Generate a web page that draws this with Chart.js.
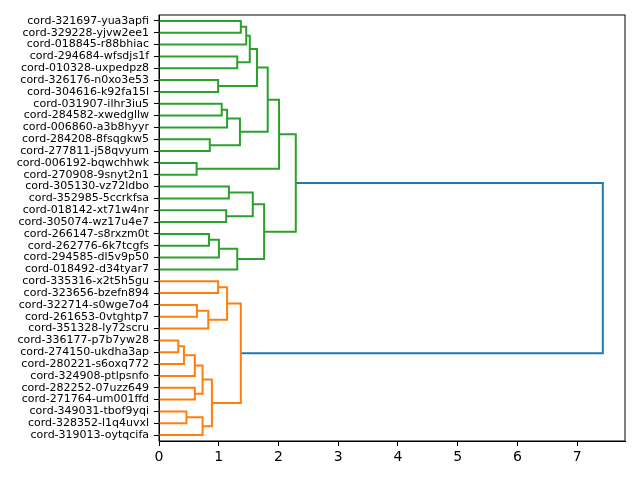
<!DOCTYPE html>
<html>
<head>
<meta charset="utf-8">
<script src="https://cdn.jsdelivr.net/npm/chart.js@4.4.1/dist/chart.umd.min.js"></script>
<style>
  html, body { margin: 0; padding: 0; background: #fff; }
  #wrap { width: 640px; height: 480px; }
</style>
</head>
<body>
<div id="wrap"><canvas id="dendro" width="640" height="480"></canvas></div>
<script>
// leaves, top to bottom as they appear on the y axis
const leafLabels = [
  "cord-321697-yua3apfi", "cord-329228-yjvw2ee1", "cord-018845-r88bhiac", "cord-294684-wfsdjs1f",
  "cord-010328-uxpedpz8", "cord-326176-n0xo3e53", "cord-304616-k92fa15l", "cord-031907-ilhr3iu5",
  "cord-284582-xwedgllw", "cord-006860-a3b8hyyr", "cord-284208-8fsqgkw5", "cord-277811-j58qvyum",
  "cord-006192-bqwchhwk", "cord-270908-9snyt2n1", "cord-305130-vz72ldbo", "cord-352985-5ccrkfsa",
  "cord-018142-xt71w4nr", "cord-305074-wz17u4e7", "cord-266147-s8rxzm0t", "cord-262776-6k7tcgfs",
  "cord-294585-dl5v9p50", "cord-018492-d34tyar7", "cord-335316-x2t5h5gu", "cord-323656-bzefn894",
  "cord-322714-s0wge7o4", "cord-261653-0vtghtp7", "cord-351328-ly72scru", "cord-336177-p7b7yw28",
  "cord-274150-ukdha3ap", "cord-280221-s6oxq772", "cord-324908-ptlpsnfo", "cord-282252-07uzz649",
  "cord-271764-um001ffd", "cord-349031-tbof9yqi", "cord-328352-l1q4uvxl", "cord-319013-oytqcifa"
];

// linkage: merge k joins mergeLeft[k] and mergeRight[k] (ids >= 36 are earlier merges)
const mergeLeft  = [0, 36, 3, 37, 5, 39, 7, 42, 10, 43, 41, 12, 46, 14, 16, 49, 18, 52, 53, 51,
                    48, 22, 24, 58, 57, 27, 61, 62, 31, 63, 33, 66, 65, 60, 56];
const mergeRight = [1, 2, 4, 38, 6, 40, 8, 9, 11, 44, 45, 13, 47, 15, 17, 50, 19, 20, 21, 54,
                    55, 23, 25, 26, 59, 28, 29, 30, 32, 64, 34, 35, 67, 68, 69];
const mergeHeight = [1.37, 1.46, 1.31, 1.52, 0.99, 1.64, 1.05, 1.14, 0.85, 1.355, 1.82, 0.63, 2.01,
                     1.17, 1.125, 1.57, 0.836, 1.003, 1.31, 1.76, 2.29, 0.99, 0.635, 0.825, 1.14,
                     0.323, 0.418, 0.60, 0.60, 0.73, 0.46, 0.73, 0.886, 1.37, 7.43];

const xTicks = [0, 1, 2, 3, 4, 5, 6, 7];

const clusterPalette = ["#2ca02c", "#ff7f0e"];
const aboveColor = "#1f77b4";

const n = leafLabels.length;
const pos = [], hgt = [];
leafLabels.forEach((_, i) => { pos[i] = 5 + 10 * i; hgt[i] = 0; });
mergeLeft.forEach((l, k) => {
  const r = mergeRight[k];
  pos[n + k] = (pos[l] + pos[r]) / 2;
  hgt[n + k] = mergeHeight[k];
});

// colour clusters like scipy does (threshold = 0.7 * max)
const threshold = 0.7 * Math.max(...mergeHeight);
const linkColor = [];
let nextColor = 0;
function paint(node, color) {
  if (node < n) return;
  const k = node - n;
  let c = color;
  if (mergeHeight[k] > threshold) c = null;
  else if (!c) c = clusterPalette[nextColor++ % clusterPalette.length];
  linkColor[k] = c || aboveColor;
  paint(mergeLeft[k], c);
  paint(mergeRight[k], c);
}
paint(n + mergeLeft.length - 1, null);

const datasets = mergeLeft.map((l, k) => {
  const r = mergeRight[k];
  return {
    data: [
      { x: hgt[l], y: pos[l] },
      { x: mergeHeight[k], y: pos[l] },
      { x: mergeHeight[k], y: pos[r] },
      { x: hgt[r], y: pos[r] }
    ],
    showLine: true,
    borderColor: linkColor[k],
    borderWidth: 2,
    pointRadius: 0,
    fill: false,
    tension: 0
  };
});

const framePlugin = {
  id: "frame",
  afterDraw(chart) {
    const a = chart.chartArea, ctx = chart.ctx;
    ctx.save();
    ctx.strokeStyle = "#000";
    ctx.lineWidth = 1;
    ctx.strokeRect(a.left, a.top, a.right - a.left, a.bottom - a.top);
    ctx.restore();
  }
};

Chart.defaults.font.family = "'DejaVu Sans', sans-serif";
Chart.defaults.color = "#000";

new Chart(document.getElementById("dendro"), {
  type: "scatter",
  data: { datasets: datasets },
  options: {
    responsive: false,
    animation: false,
    layout: { padding: { top: 15, right: 15, left: 0, bottom: 0 } },
    plugins: { legend: { display: false }, tooltip: { enabled: false } },
    scales: {
      x: {
        type: "linear",
        min: 0,
        max: Math.max(...mergeHeight) * 1.05,
        afterBuildTicks: axis => { axis.ticks = xTicks.map(v => ({ value: v })); },
        afterFit: axis => { axis.height = 39; },
        grid: { drawOnChartArea: false, tickLength: 5, color: "#000" },
        border: { display: true, color: "#000" },
        ticks: { font: { size: 14 }, padding: 3, autoSkip: false, maxRotation: 0 }
      },
      y: {
        type: "linear",
        min: 0,
        max: 10 * n,
        reverse: true,
        afterBuildTicks: axis => { axis.ticks = leafLabels.map((_, i) => ({ value: 5 + 10 * i })); },
        afterFit: axis => { axis.width = 159; },
        grid: { drawOnChartArea: false, tickLength: 5, color: "#000" },
        border: { display: true, color: "#000" },
        ticks: {
          font: { size: 11 },
          padding: 5,
          autoSkip: false,
          callback: v => leafLabels[Math.round((v - 5) / 10)]
        }
      }
    }
  },
  plugins: [framePlugin]
});
</script>
</body>
</html>
